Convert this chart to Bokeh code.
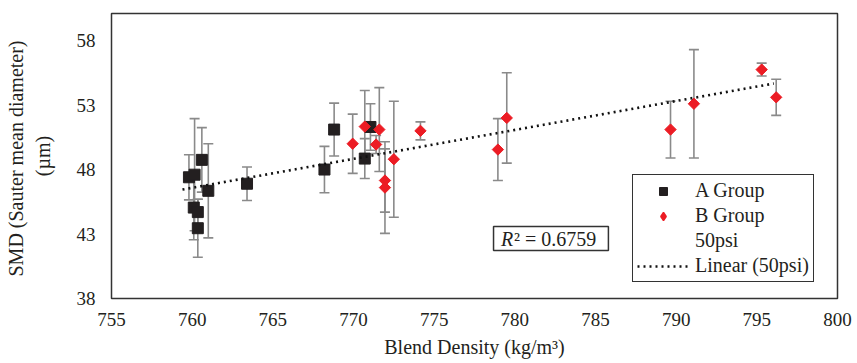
from bokeh.plotting import figure
from bokeh.models import (ColumnDataSource, Whisker, TeeHead, Legend, LegendItem,
                          FixedTicker, Range1d, Label, BoxAnnotation)
from bokeh.embed import file_html
from bokeh.resources import INLINE

# ---- data ----
a_x = [759.8, 760.15, 760.1, 760.35, 760.35, 760.6, 761.0, 763.4, 768.2, 768.8, 770.7, 771.05]
a_y = [47.4, 47.6, 45.05, 44.7, 43.45, 48.75, 46.35, 46.9, 48.0, 51.1, 48.85, 51.3]
a_err = [1.75, 4.35, 2.5, 1.0, 2.25, 2.5, 3.65, 1.3, 1.8, 2.05, 1.55, 1.8]

b_x = [769.95, 770.7, 771.6, 771.4, 771.95, 771.95, 772.5, 774.15, 778.95, 779.5, 789.65, 791.1, 795.3, 796.2]
b_y = [50.0, 51.33, 51.1, 49.94, 47.15, 46.6, 48.8, 51.0, 49.55, 52.0, 51.1, 53.1, 55.75, 53.6]
b_err = [2.3, 2.8, 3.25, 0.7, 2.45, 3.55, 4.5, 0.7, 2.4, 3.5, 2.2, 4.2, 0.5, 1.4]

trend_x = [759.4, 796.05]
trend_y = [46.45, 54.67]

x_ticks = [755, 760, 765, 770, 775, 780, 785, 790, 795, 800]
y_ticks = [38, 43, 48, 53, 58]
r2_text = "0.6759"

FONT = "Liberation Serif"
TXT = "#231f20"
BLACK = "#231f20"
RED = "#ec1c24"
GRAY = "#8a8a8a"
NAN = float("nan")

p = figure(width=857, height=363, output_backend="svg", toolbar_location=None,
           x_range=Range1d(755, 800), y_range=Range1d(38, 60.1),
           min_border_left=111, min_border_right=20, min_border_top=13, min_border_bottom=65)
p.background_fill_color = "white"
p.border_fill_color = "white"
p.grid.visible = False
p.outline_line_color = "#333333"
p.outline_line_width = 1.5

for ax in (p.xaxis[0], p.yaxis[0]):
    ax.axis_line_color = None
    ax.major_tick_line_color = None
    ax.minor_tick_line_color = None
    ax.major_tick_out = 0
    ax.major_tick_in = 0
    ax.minor_tick_out = 0
    ax.major_label_text_font = FONT
    ax.major_label_text_font_size = "19px"
    ax.major_label_text_color = TXT
    ax.axis_label_text_font = FONT
    ax.axis_label_text_font_size = "20px"
    ax.axis_label_text_font_style = "normal"
    ax.axis_label_text_color = TXT

p.xaxis.ticker = FixedTicker(ticks=x_ticks)
p.yaxis.ticker = FixedTicker(ticks=y_ticks)
p.xaxis.major_label_standoff = 14
p.yaxis.major_label_standoff = 16
p.xaxis.axis_label = "Blend Density (kg/m\u00b3)"
p.yaxis.axis_label = "SMD (Sauter mean  diameter)\n(\u00b5m)"
p.xaxis.axis_label_standoff = 7
p.yaxis.axis_label_standoff = 20

def add_err(xs, ys, es):
    src = ColumnDataSource(dict(x=xs, lo=[y - e for y, e in zip(ys, es)],
                                hi=[y + e for y, e in zip(ys, es)]))
    w = Whisker(base="x", lower="lo", upper="hi", source=src, dimension="height",
                line_color=GRAY, line_width=1.6, level="underlay",
                upper_head=TeeHead(size=10, line_color=GRAY, line_width=1.6),
                lower_head=TeeHead(size=10, line_color=GRAY, line_width=1.6))
    p.add_layout(w)

add_err(a_x, a_y, a_err)
add_err(b_x, b_y, b_err)

p.scatter(a_x, a_y, marker="square", size=11, fill_color=BLACK, line_color=BLACK)
p.scatter(b_x, b_y, marker="square", angle=0.785398, size=8,
          fill_color=RED, line_color=RED)
rt = p.line(trend_x, trend_y, line_color="#111111", line_width=2.6, line_dash="2 4")

# legend-only renderers (NaN points are not drawn in the plot)
la = p.scatter([NAN], [NAN], marker="square", size=9, fill_color=BLACK, line_color=BLACK)
lb = p.scatter([NAN], [NAN], marker="diamond", size=13, fill_color=RED, line_color=RED,
               line_width=1.5)
l50 = p.scatter([NAN], [NAN], marker="square", size=8, fill_alpha=0, line_alpha=0)

legend = Legend(items=[LegendItem(label="A Group", renderers=[la]),
                       LegendItem(label="B Group", renderers=[lb]),
                       LegendItem(label="50psi", renderers=[l50]),
                       LegendItem(label="Linear (50psi)", renderers=[rt])],
                location=(521, 16), orientation="vertical",
                label_text_font=FONT, label_text_font_size="20px", label_text_color=TXT,
                glyph_width=52, glyph_height=20, label_height=20, spacing=2,
                padding=4, margin=0, label_standoff=6,
                border_line_color="#333333", border_line_width=1.5, border_line_alpha=1,
                background_fill_color="white", background_fill_alpha=1)
p.add_layout(legend, "center")

# R^2 box
p.add_layout(BoxAnnotation(left=778.68, right=785.8, bottom=41.72, top=43.58,
                           fill_color="white", fill_alpha=1,
                           line_color="#333333", line_alpha=1, line_width=1.5))
p.add_layout(Label(x=779.15, y=42.65, text="R", text_font=FONT, text_font_size="20px",
                   text_font_style="italic", text_color=TXT, text_baseline="middle"))
p.add_layout(Label(x=779.95, y=42.65, text="\u00b2 = " + r2_text, text_font=FONT,
                   text_font_size="20px", text_color=TXT, text_baseline="middle"))

open("out.html", "w").write(file_html(p, INLINE))
